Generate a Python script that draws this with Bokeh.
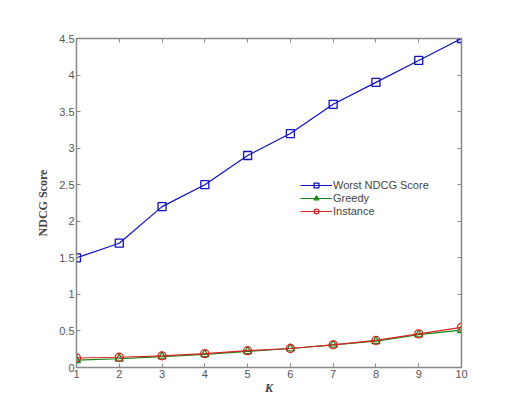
from bokeh.plotting import figure
from bokeh.models import FixedTicker, LinearAxis, Range1d, Legend, LegendItem
from bokeh.embed import file_html
from bokeh.resources import INLINE

k = [1, 2, 3, 4, 5, 6, 7, 8, 9, 10]
worst = [1.5, 1.7, 2.2, 2.5, 2.9, 3.2, 3.6, 3.9, 4.2, 4.5]
greedy = [0.10, 0.12, 0.15, 0.18, 0.22, 0.26, 0.31, 0.36, 0.45, 0.51]
instance = [0.13, 0.14, 0.16, 0.19, 0.23, 0.26, 0.31, 0.37, 0.46, 0.55]
y_ticks = [0, 0.5, 1, 1.5, 2, 2.5, 3, 3.5, 4, 4.5]
y_tick_labels = ["0", "0.5", "1", "1.5", "2", "2.5", "3", "3.5", "4", "4.5"]
x_ticks = k

p = figure(width=490, height=397, output_backend="svg", toolbar_location=None,
           x_range=Range1d(1, 10), y_range=Range1d(0, 4.5),
           min_border_left=76, min_border_right=29, min_border_top=38, min_border_bottom=30)
p.grid.visible = False
p.outline_line_color = "#888888"
p.outline_line_width = 1.5

blue = "#1010c0"
green = "#118811"
red = "#dd2222"

r1 = p.line(k, worst, line_color=blue, line_width=1.2)
m1 = p.scatter(k, worst, marker="square", size=8, fill_color=None, line_color=blue, line_width=1.3)
r2 = p.line(k, greedy, line_color=green, line_width=1.2)
m2 = p.scatter(k, greedy, marker="triangle", size=8, fill_color=None, line_color=green, line_width=1.3)
r3 = p.line(k, instance, line_color=red, line_width=1.2)
m3 = p.scatter(k, instance, marker="circle", size=8, fill_color=None, line_color=red, line_width=1.3)

def style(ax, labels=True):
    ax.axis_line_color = "#888888"
    ax.major_tick_line_color = "#888888"
    ax.major_tick_in = 4
    ax.major_tick_out = 0
    ax.minor_tick_line_color = None
    ax.major_label_text_font = "Liberation Sans"
    ax.major_label_text_font_size = "11px"
    ax.major_label_text_color = "#555555"
    ax.major_label_standoff = 2
    if not labels:
        ax.major_label_text_color = None

xa = p.xaxis[0]
ya = p.yaxis[0]
xa.ticker = FixedTicker(ticks=x_ticks)
ya.ticker = FixedTicker(ticks=y_ticks)
ya.major_label_overrides = {t: s for t, s in zip(y_ticks, y_tick_labels)}
style(xa)
style(ya)
xa.axis_label = "K"
xa.axis_label_text_font = "Liberation Serif"
xa.axis_label_text_font_style = "bold italic"
xa.axis_label_text_font_size = "12px"
xa.axis_label_standoff = 0
ya.axis_label = "NDCG Score"
ya.axis_label_text_font = "Liberation Serif"
ya.axis_label_text_font_style = "bold"
ya.axis_label_text_font_size = "12px"
ya.axis_label_standoff = 6

xt = LinearAxis(ticker=FixedTicker(ticks=x_ticks))
yr = LinearAxis(ticker=FixedTicker(ticks=y_ticks))
style(xt, False)
style(yr, False)
p.add_layout(xt, "above")
p.add_layout(yr, "right")

legend = Legend(items=[
    LegendItem(label="Worst NDCG Score", renderers=[r1, m1]),
    LegendItem(label="Greedy", renderers=[r2, m2]),
    LegendItem(label="Instance", renderers=[r3, m3]),
], location=(224, 150))
legend.border_line_color = None
legend.background_fill_alpha = 0
legend.label_text_font = "Liberation Sans"
legend.label_text_font_size = "11px"
legend.label_text_color = "#444444"
legend.glyph_width = 32
legend.glyph_height = 12
legend.label_height = 12
legend.spacing = 1
legend.padding = 2
legend.label_standoff = 1
p.add_layout(legend, "center")

open("out.html", "w").write(file_html(p, INLINE))
